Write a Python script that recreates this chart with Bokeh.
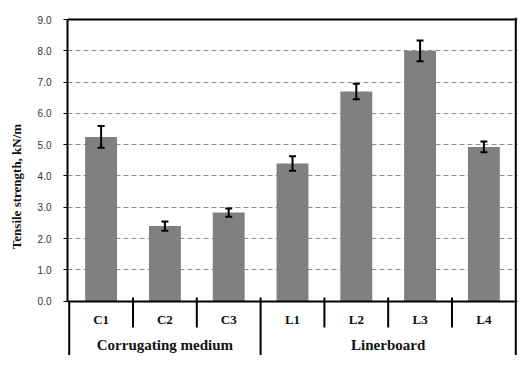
from bokeh.plotting import figure
from bokeh.models import (ColumnDataSource, FactorRange, Range1d, FixedTicker, PrintfTickFormatter,
                          Whisker, TeeHead)
from bokeh.core.properties import value
from bokeh.embed import file_html
from bokeh.resources import INLINE

categories = ["C1", "C2", "C3", "L1", "L2", "L3", "L4"]
strength = [5.25, 2.40, 2.83, 4.40, 6.70, 8.00, 4.93]
errors = [0.35, 0.15, 0.13, 0.23, 0.25, 0.33, 0.17]
groups = ["Corrugating medium", "Linerboard"]
group_centers = [("C2", 0.0), ("L2", 0.5)]
y_ticks = [0, 1, 2, 3, 4, 5, 6, 7, 8, 9]

SERIF = "Liberation Serif"

src = ColumnDataSource(dict(
    cat=categories, val=strength,
    upper=[v + e for v, e in zip(strength, errors)],
    lower=[v - e for v, e in zip(strength, errors)],
))

p = figure(width=525, height=365,
           x_range=FactorRange(*categories, range_padding=0.027, range_padding_units="absolute"),
           y_range=Range1d(-1.735, 9.064),
           output_backend="svg", toolbar_location=None,
           min_border_left=67, min_border_right=8, min_border_top=17, min_border_bottom=10)
p.outline_line_color = None
p.xaxis.visible = False
p.xgrid.visible = False
p.ygrid.visible = False

ax = p.yaxis[0]
ax.bounds = (0, 9)
ax.ticker = FixedTicker(ticks=y_ticks)
ax.formatter = PrintfTickFormatter(format="%.1f")
ax.axis_line_width = 2
ax.axis_line_color = "black"
ax.major_tick_out = 4
ax.major_tick_in = 0
ax.major_tick_line_color = "black"
ax.minor_tick_line_color = None
ax.major_label_standoff = 12
ax.major_label_text_font = "Liberation Sans"
ax.major_label_text_font_size = "10px"
ax.major_label_text_color = "#333333"
ax.axis_label = "Tensile strength, kN/m"
ax.axis_label_text_font = SERIF
ax.axis_label_text_font_style = "bold"
ax.axis_label_text_font_size = "13px"
ax.axis_label_text_color = "#111111"
ax.axis_label_standoff = 11

# dashed gridlines
p.hspan(y=y_ticks[1:-1], line_color="#909090", line_width=1, line_dash="5 3")

# bars
p.vbar(x="cat", top="val", width=0.5, source=src, fill_color="#808080", line_color=None)

# error bars
p.add_layout(Whisker(base="cat", upper="upper", lower="lower", source=src,
                     line_color="black", line_width=2, level="overlay",
                     upper_head=TeeHead(size=7, line_width=2, line_color="black"),
                     lower_head=TeeHead(size=7, line_width=2, line_color="black")))

# top border and baseline
p.hspan(y=[9, 0], line_color="black", line_width=2)
# right border and lower-left spine
p.segment(x0=[("L4", 0.5), ("C1", -0.5)], y0=[-1.72, 0], x1=[("L4", 0.5), ("C1", -0.5)], y1=[9.064, -1.72],
          line_color="black", line_width=2)

# category separators
inner = [(c, -0.5) for c in categories[1:]]
short = [b for b in inner if b[0] != "L1"]
p.segment(x0=short, y0=[0.12] * len(short), x1=short, y1=[-0.84] * len(short),
          line_color="black", line_width=2)
p.segment(x0=[("L1", -0.5)], y0=[0.12], x1=[("L1", -0.5)], y1=[-1.72],
          line_color="black", line_width=2)

# category labels
p.text(x=categories, y=[-0.585] * len(categories), text=categories,
       text_font=value(SERIF), text_font_style="bold", text_font_size="13px",
       text_align="center", text_baseline="middle", text_color="#111111")
p.text(x=group_centers, y=[-1.415] * len(groups), text=groups,
       text_font=value(SERIF), text_font_style="bold", text_font_size="15px",
       text_align="center", text_baseline="middle", text_color="#111111")

open("out.html", "w").write(file_html(p, INLINE))
